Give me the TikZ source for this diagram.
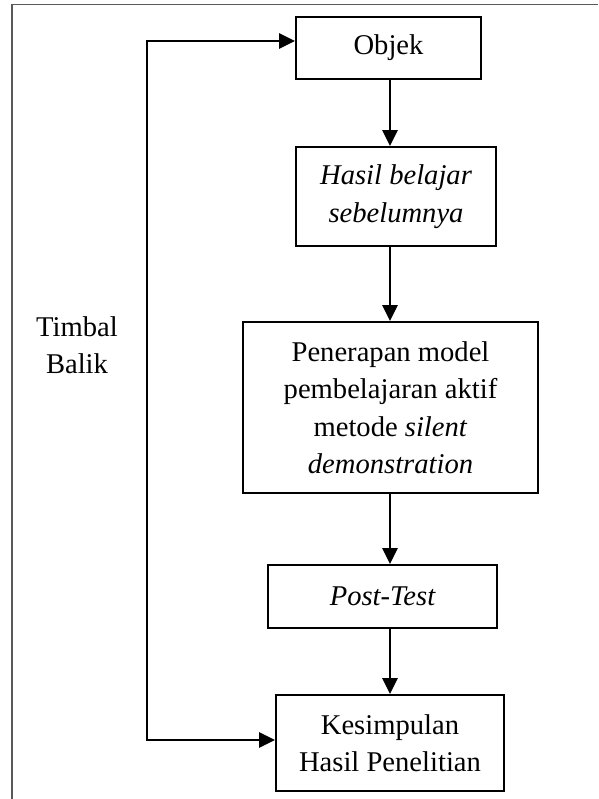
\documentclass[tikz,border=0pt]{standalone}
\usepackage{fontspec}
\setmainfont{Liberation Serif}
\usetikzlibrary{arrows.meta,calc}
\begin{document}
\begin{tikzpicture}[x=1pt,y=-1pt,
  box/.style={draw=black, line width=1.8pt, inner sep=0pt, align=center,
    font=\fontsize{28.6}{37.5}\selectfont},
  arr/.style={line width=2.6pt, -{Triangle[length=16pt,width=15pt]}},
  frame/.style={draw=black!65, line width=1.2pt}]
\useasboundingbox (0,0) rectangle (598,799);
% outer frame (top and left only)
\draw[frame] (598,4.7) -- (12,4.7) -- (12,799);
% boxes
\node[box, minimum width=185pt, minimum height=62pt] (objek) at (388.5,48) {Objek};
\node[box, minimum width=200pt, minimum height=99pt] (hasil) at (396,196.5)
  {\itshape Hasil belajar\\ \itshape sebelumnya};
\node[box, minimum width=295pt, minimum height=171pt] (pen) at (390.5,407.5)
  {Penerapan model\\ pembelajaran aktif\\ metode \textit{silent}\\ \textit{demonstration}};
\node[box, minimum width=229pt, minimum height=63pt] (post) at (382.5,596.5)
  {\itshape Post-Test};
\node[box, minimum width=228pt, minimum height=96pt] (kes) at (390,743)
  {Kesimpulan\\ Hasil Penelitian};
\node[align=center, inner sep=0pt, font=\fontsize{28.6}{37.5}\selectfont] (tb) at (77,345)
  {Timbal\\ Balik};
% flow arrows
\coordinate (col) at (390,0);
\draw[arr] (col |- objek.south) -- (col |- hasil.north);
\draw[arr] (col |- hasil.south) -- (col |- pen.north);
\draw[arr] (col |- pen.south) -- (col |- post.north);
\draw[arr] (col |- post.south) -- (col |- kes.north);
% feedback loop
\coordinate (fbtop) at (147,41);
\coordinate (fbbot) at (147,740);
\draw[line width=2.6pt, {Triangle[length=16pt,width=15pt]}-{Triangle[length=16pt,width=15pt]}]
  (objek.west |- fbtop) -- (fbtop) -- (fbbot) -- (kes.west |- fbbot);
\end{tikzpicture}
\end{document}
